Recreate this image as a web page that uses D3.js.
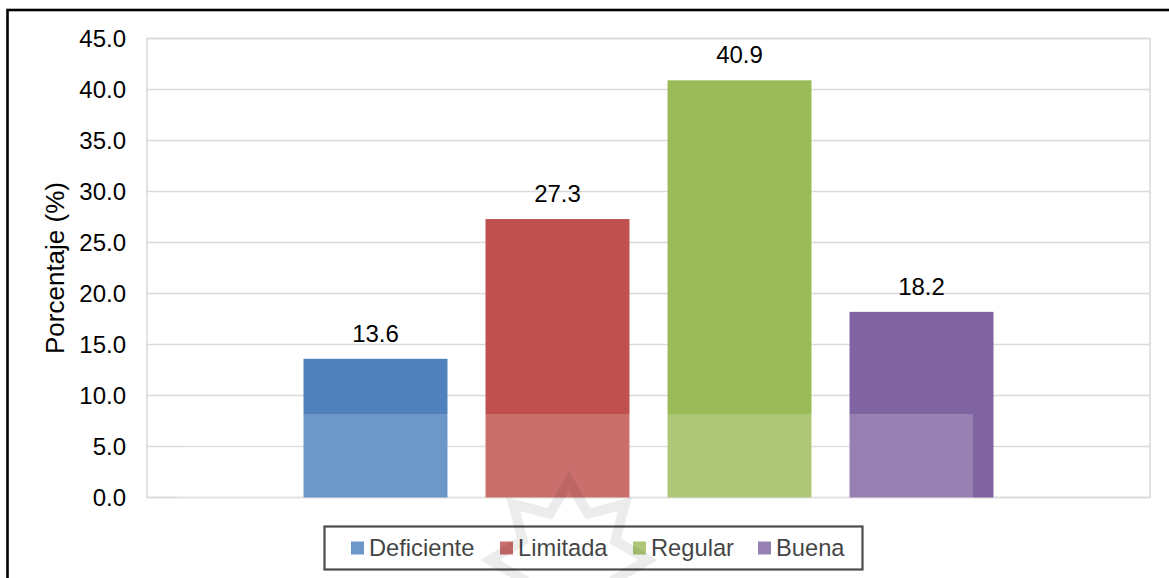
<!DOCTYPE html>
<html>
<head>
<meta charset="utf-8">
<script src="https://cdn.jsdelivr.net/npm/d3@7"></script>
<style>
  html, body { margin: 0; padding: 0; background: #fff; }
  svg { display: block; font-family: "Liberation Sans", Arial, sans-serif; }
</style>
</head>
<body>
<svg id="chart" width="1169" height="578"></svg>
<script>
// Nivel de valoración (%)
const categories = ["Deficiente", "Limitada", "Regular", "Buena"];
const values = [13.6, 27.3, 40.9, 18.2];
const colors = ["#4F81BD", "#C0504D", "#9BBB59", "#8064A2"];
const yTicks = [0, 5, 10, 15, 20, 25, 30, 35, 40, 45];

const svg = d3.select("#chart");
const plot = { left: 147, right: 1150, top: 38.5, bottom: 497.5 };

const y = d3.scaleLinear().domain([0, 45]).range([plot.bottom, plot.top]);
const x = d3.scaleBand()
  .domain(categories)
  .range([plot.left, plot.right])
  .paddingInner(0.209)
  .paddingOuter(0.86);

// outer frame
svg.append("rect")
  .attr("x", 7.5).attr("y", 10)
  .attr("width", 1175).attr("height", 590)
  .attr("fill", "none").attr("stroke", "#000").attr("stroke-width", 2.6);

// gridlines
svg.append("g")
  .selectAll("line")
  .data(yTicks)
  .join("line")
  .attr("x1", plot.left).attr("x2", plot.right)
  .attr("y1", d => y(d)).attr("y2", d => y(d))
  .attr("stroke", "#D9D9D9").attr("stroke-width", 1.5);

// plot border
svg.append("rect")
  .attr("x", plot.left).attr("y", plot.top)
  .attr("width", plot.right - plot.left).attr("height", plot.bottom - plot.top)
  .attr("fill", "none").attr("stroke", "#D9D9D9").attr("stroke-width", 1.5);

// y axis labels
const yAxis = d3.axisLeft(y).tickValues(yTicks).tickFormat(d3.format(".1f")).tickSize(0).tickPadding(21);
const gy = svg.append("g").attr("transform", `translate(${plot.left},0)`).call(yAxis);
gy.select(".domain").remove();
gy.selectAll("text")
  .attr("font-size", 24)
  .attr("font-family", "'Liberation Sans', Arial, sans-serif")
  .attr("fill", "#000");

// y axis title
svg.append("text")
  .attr("transform", `translate(64, ${(plot.top + plot.bottom) / 2}) rotate(-90)`)
  .attr("text-anchor", "middle")
  .attr("font-size", 26)
  .attr("fill", "#000")
  .text("Porcentaje (%)");

// bars
svg.append("g")
  .selectAll("rect")
  .data(categories)
  .join("rect")
  .attr("x", d => x(d))
  .attr("width", x.bandwidth())
  .attr("y", (d, i) => y(values[i]))
  .attr("height", (d, i) => y(0) - y(values[i]))
  .attr("fill", (d, i) => colors[i]);

// value labels
svg.append("g")
  .selectAll("text")
  .data(categories)
  .join("text")
  .attr("x", d => x(d) + x.bandwidth() / 2)
  .attr("y", (d, i) => y(values[i]) - 17)
  .attr("text-anchor", "middle")
  .attr("font-size", 24)
  .attr("fill", "#000")
  .text((d, i) => d3.format(".1f")(values[i]));

// legend
const legend = svg.append("g");
legend.append("rect")
  .attr("x", 324.5).attr("y", 526.5)
  .attr("width", 538).attr("height", 43)
  .attr("fill", "#fff").attr("stroke", "#262626").attr("stroke-width", 2.2);
const legendX = [351, 500, 633, 758];
const items = legend.selectAll("g.item")
  .data(categories)
  .join("g")
  .attr("class", "item")
  .attr("transform", (d, i) => `translate(${legendX[i]}, 548)`);
items.append("rect")
  .attr("x", 0).attr("y", -6.5)
  .attr("width", 13).attr("height", 13)
  .attr("fill", (d, i) => colors[i]);
items.append("text")
  .attr("x", 18).attr("y", 0)
  .attr("dy", "0.35em")
  .attr("font-size", 23.7)
  .attr("fill", "#1a1a1a")
  .text(d => d);

// light watermark band over the lower part
svg.append("rect")
  .attr("x", 178).attr("y", 414)
  .attr("width", 795).attr("height", 170)
  .attr("fill", "#fff").attr("opacity", 0.18);

// faint star emblem
const cx = 569, cy = 560, rOut = 79, rIn = 50, n = 8;
const starPts = d3.range(n * 2).map(k => {
  const r = k % 2 === 0 ? rOut : rIn;
  const a = -Math.PI / 2 + k * Math.PI / n;
  return [cx + r * Math.cos(a), cy + r * Math.sin(a)];
});
svg.append("path")
  .attr("d", d3.line()(starPts) + "Z")
  .attr("fill", "none")
  .attr("stroke", "#000")
  .attr("stroke-width", 10)
  .attr("stroke-linejoin", "miter")
  .attr("opacity", 0.075);
</script>
</body>
</html>
